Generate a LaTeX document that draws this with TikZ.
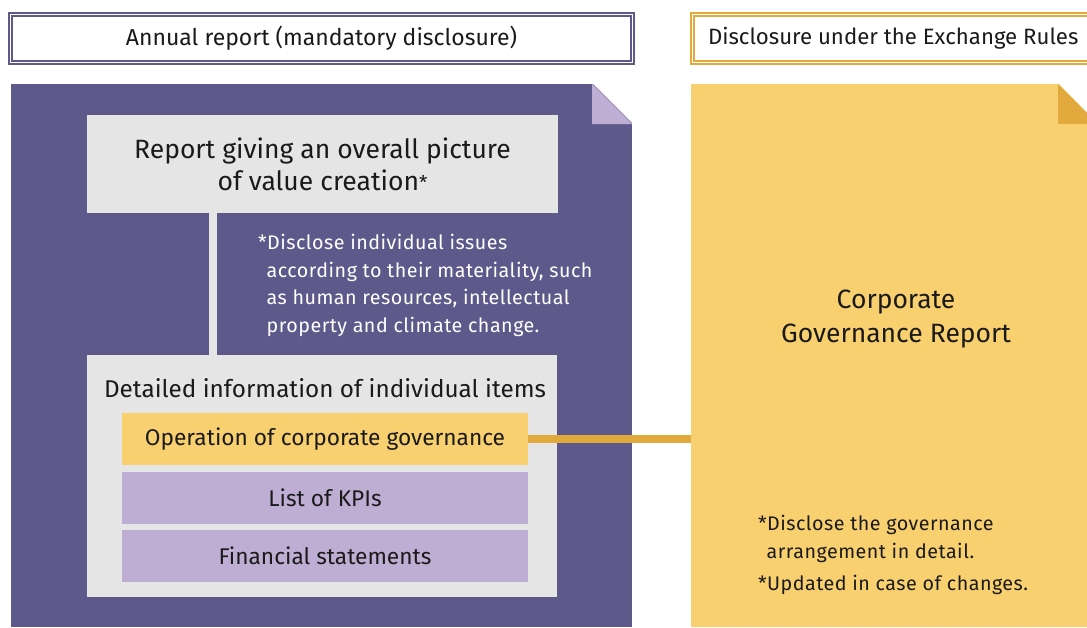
\documentclass[tikz,border=0pt]{standalone}
\usepackage{fontspec}
\setmainfont{Fira Sans}
\newfontfamily\notefont[LetterSpace=2.5]{Fira Sans}
\definecolor{panelpurple}{HTML}{5E598B}
\definecolor{lavender}{HTML}{BFAED3}
\definecolor{boxgray}{HTML}{E5E5E5}
\definecolor{panelyellow}{HTML}{F9D06F}
\definecolor{accentorange}{HTML}{E2AA3C}
\definecolor{txt}{HTML}{1A1A1A}
\begin{document}
\begin{tikzpicture}[x=1pt,y=-1pt,
  every node/.style={inner sep=0pt, outer sep=0pt, text=txt},
  itembox/.style={anchor=north west, minimum width=406, minimum height=52, font=\fontsize{22.7}{24}\selectfont},
  headtext/.style={font=\fontsize{22.5}{24}\selectfont},
  notetext/.style={font=\notefont\fontsize{19.7}{27.7}\selectfont, align=left, anchor=north west}
]
\useasboundingbox (0,0) rectangle (1087,627);
\begin{scope}
\clip (0,0) rectangle (1087,627);
% headers
\draw[panelpurple, line width=1.2] (9,13) rectangle (634,64);
\draw[panelpurple, line width=1.2] (12,16) rectangle (631,61);
\node[headtext, font=\fontsize{23}{24}\selectfont] (hleft) at (321.5,38.5) {Annual report (mandatory disclosure)};
\draw[accentorange, line width=1.2] (691,13) rectangle (1092,64);
\draw[accentorange, line width=1.2] (694,16) rectangle (1089,61);
\node[headtext, font=\fontsize{22.2}{24}\selectfont, anchor=west] (hright) at (708,38.5) {Disclosure under the Exchange Rules};
% purple panel
\node[fill=panelpurple, anchor=north west, minimum width=621, minimum height=543] (lp) at (11,84) {};
\fill[white] (592,83) -- (633,83) -- (633,124) -- cycle;
\fill[lavender] (592,84) -- (592,124) -- (632,124) -- cycle;
% yellow panel
\node[fill=panelyellow, anchor=north west, minimum width=400, minimum height=543] (rp) at (691,84) {};
\fill[white] (1058,83) -- (1100,83) -- (1100,126) -- cycle;
\fill[accentorange] (1058,84) -- (1058,124) -- (1098,124) -- cycle;
% top gray box
\node[fill=boxgray, anchor=north west, minimum width=471, minimum height=98,
  font=\fontsize{26.5}{32}\selectfont, align=center] (top) at (87,115)
  {Report giving an overall picture\\of value creation{\fontsize{19}{20}\selectfont\raisebox{1pt}{*}}};
% lower gray box
\node[fill=boxgray, anchor=north west, minimum width=470, minimum height=242] (low) at (87,355) {};
\node[font=\fontsize{24.3}{26}\selectfont] (detail) at (325,388) {Detailed information of individual items};
\node[itembox, fill=panelyellow] (opgov) at (122,413) {Operation of corporate governance};
\node[itembox, fill=lavender] (kpi) at (122,472) {List of KPIs};
\node[itembox, fill=lavender] (fin) at (122,530) {Financial statements};
% connectors
\draw[boxgray, line width=8] ([xshift=126]top.south west) -- ([xshift=126]low.north west);
\draw[accentorange, line width=8] (opgov.east) -- (opgov.east -| rp.west);
% notes
\node[notetext, text=white] (note1) at (258,234)
  {*Disclose individual issues\\
   \phantom{*}according to their materiality, such\\
   \phantom{*}as human resources, intellectual\\
   \phantom{*}property and climate change.};
\node[font=\fontsize{26.5}{34}\selectfont, align=center] (cgr) at (896,319) {Corporate\\Governance Report};
\node[notetext] (note2) at (758,515)
  {*Disclose the governance\\
   \phantom{*}arrangement in detail.};
\node[notetext, anchor=west] (note3) at (758,585) {*Updated in case of changes.};
\end{scope}
\end{tikzpicture}
\end{document}
